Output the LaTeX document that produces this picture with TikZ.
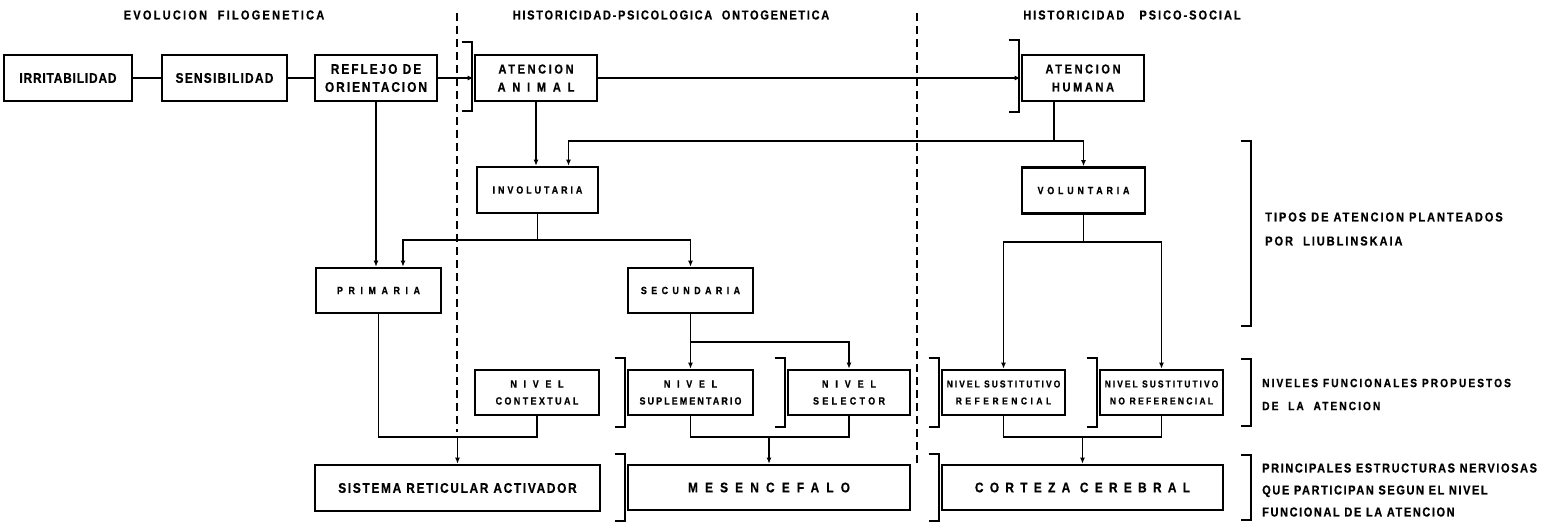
\documentclass[tikz,border=0pt]{standalone}
\usepackage{fontspec}
\usetikzlibrary{arrows.meta}
\newfontfamily\LS{Liberation Sans Bold}[FakeStretch=0.85,FakeBold=0.6]
% size, baselineskip, letter spacing
\newcommand\ft[3]{\LS\fontsize{#1}{#2}\selectfont\addfontfeature{LetterSpace=#3}}
\newcommand\ls[2]{{\addfontfeature{LetterSpace=#1}#2}}
% open bracket on the left side of a box
\newcommand\openbr[3]{\draw[brk] ([xshift=-12pt,yshift=#2]#1.north west) -| ([xshift=-2pt,yshift=-#3]#1.south west) -- ++(-10,0);}

\begin{document}
\begin{tikzpicture}[x=1pt,y=-1pt,
  box/.style={draw, line width=2.6pt, inner sep=0pt, align=center, minimum height=46pt},
  wire/.style={line width=1.4pt},
  arr/.style={wire, -{Latex[length=6pt,width=5pt]}},
  brk/.style={line width=2pt},
  zone/.style={line width=2pt, dash pattern=on 8pt off 5pt},
  head/.style={inner sep=0pt},
  note/.style={inner sep=0pt, align=left, anchor=west},
]
\fill[white] (0,0) rectangle (1558,523);
\useasboundingbox (0,0) rectangle (1558,523);

% column headings
\node[head, font=\ft{13}{15}{17}] (t1) at (224,15) {EVOLUCION\ \ FILOGENETICA};
\node[head, font=\ft{13}{15}{13}] (t2) at (671,15) {HISTORICIDAD-PSICOLOGICA\ \ ONTOGENETICA};
\node[head, font=\ft{13}{15}{15}] (t3) at (1132,15) {HISTORICIDAD\ \ \ PSICO-SOCIAL};

% column separators
\draw[zone] (457,13) -- (457,432);
\draw[zone] (917,13) -- (917,464);

% top row
\node[box, minimum width=128pt, font=\ft{14}{18}{6}] (irr) at (68,78) {IRRITABILIDAD};
\node[box, minimum width=125pt, font=\ft{14}{18}{9}] (sen) at (224.5,78) {SENSIBILIDAD};
\node[box, minimum width=122pt, font=\ft{14}{18}{14}] (ref) at (376,78) {REFLEJO DE\\ORIENTACION};
\node[box, minimum width=122pt, font=\ft{13}{18}{20}] (ani) at (536,78) {ATENCION\\\ls{52}{ANIMAL}};
\node[box, minimum width=122pt, font=\ft{13}{18}{20}] (hum) at (1083,78) {ATENCION\\HUMANA};

% types of attention
\node[box, minimum width=121pt, font=\ft{10.5}{17}{28}] (inv) at (537.5,190) {INVOLUTARIA};
\node[box, minimum width=123pt, font=\ft{10.5}{17}{36}] (vol) at (1083.5,190.5) {VOLUNTARIA};
\node[box, minimum width=125pt, minimum height=45pt, font=\ft{10.5}{17}{53}] (pri) at (378.5,290.5) {PRIMARIA};
\node[box, minimum width=125pt, minimum height=45pt, font=\ft{10.5}{17}{42}] (sec) at (690.5,290.5) {SECUNDARIA};

% functional levels
\node[box, minimum width=124pt, minimum height=45pt, font=\ft{10.5}{17}{23}] (ctx) at (537,392.5) {\ls{64}{NIVEL}\\CONTEXTUAL};
\node[box, minimum width=125pt, minimum height=45pt, font=\ft{10.5}{17}{20}] (sup) at (690.5,392.5) {\ls{64}{NIVEL}\\SUPLEMENTARIO};
\node[box, minimum width=122pt, minimum height=45pt, font=\ft{10.5}{17}{32}] (sel) at (849,392.5) {\ls{66}{NIVEL}\\SELECTOR};
\node[box, minimum width=123pt, minimum height=45pt, font=\ft{10}{17}{20}] (rfr) at (1003.5,392.5) {NIVEL SUSTITUTIVO\\\ls{35}{REFERENCIAL}};
\node[box, minimum width=123pt, minimum height=45pt, font=\ft{10}{17}{20}] (nrf) at (1161.5,392.5) {NIVEL SUSTITUTIVO\\\ls{23}{NO REFERENCIAL}};

% nervous structures
\node[box, minimum width=285pt, font=\ft{14}{18}{12}] (sis) at (457.5,488) {SISTEMA RETICULAR ACTIVADOR};
\node[box, minimum width=282pt, minimum height=45pt, font=\ft{14}{18}{51}] (mes) at (769,487.5) {MESENCEFALO};
\node[box, minimum width=281pt, minimum height=45pt, font=\ft{14}{18}{45}] (cor) at (1082.5,487.5) {CORTEZA CEREBRAL};

% brackets on boxes
\openbr{ani}{12pt}{9pt}
\openbr{hum}{14pt}{10pt}
\openbr{sup}{11pt}{11pt}
\openbr{sel}{11pt}{11pt}
\openbr{rfr}{11pt}{11pt}
\openbr{nrf}{11pt}{11pt}
\openbr{mes}{10pt}{10pt}
\openbr{cor}{10pt}{10pt}

% top chain
\draw[wire] (irr) -- (sen);
\draw[wire] (sen) -- (ref);
\draw[arr] (ref) -- (ani);
\draw[arr] (ani) -- (hum);

% downward links
\draw[arr] (ref.south) -- (ref.south |- pri.north);
\draw[arr] (ani.south) -- (ani.south |- inv.north);

\coordinate (hj) at (1054,141);
\draw[wire] (hj |- hum.south) -- (hj);
\draw[arr] (hj) -| ([xshift=31pt]inv.north);
\draw[arr] (hj) -| (vol.north);

\coordinate (ij) at (inv.south |- 0,240);
\draw[wire] (inv.south) -- (ij);
\draw[arr] (ij) -| ([xshift=24.5pt]pri.north);
\draw[arr] (ij) -| (sec.north);

\coordinate (vj) at (vol.south |- 0,242);
\draw[wire] (vol.south) -- (vj);
\draw[arr] (vj) -| (rfr.north);
\draw[arr] (vj) -| (nrf.north);

\draw[arr] (sec) -- (sup);
\coordinate (sj) at (sec.south |- 0,342);
\draw[arr] (sj) -| (sel.north);

% collectors into the nervous structures
\coordinate (pj) at (sis.north |- 0,437);
\draw[wire] (pri.south) |- (ctx.south |- pj) -- (ctx.south);
\draw[arr] (pj) -- (sis.north);
\coordinate (mj) at (mes.north |- 0,437);
\draw[wire] (sup.south) |- (sel.south |- mj) -- (sel.south);
\draw[arr] (mj) -- (mes.north);
\coordinate (cj) at (cor.north |- 0,437);
\draw[wire] (rfr.south) |- (nrf.south |- cj) -- (nrf.south);
\draw[arr] (cj) -- (cor.north);

% row brackets and their captions
\draw[brk] (1241,141) -| (1251,326) -- (1241,326);
\draw[brk] (1241,359) -| (1251,426) -- (1241,426);
\draw[brk] (1241,455) -| (1251,520) -- (1241,520);
\node[note, font=\ft{13}{24}{15}] (n1) at (1265,229) {TIPOS DE ATENCION PLANTEADOS\\POR\ \ LIUBLINSKAIA};
\node[note, font=\ft{12}{23}{17}] (n2) at (1262,394.5) {NIVELES FUNCIONALES PROPUESTOS\\DE\ \ LA\ \ ATENCION};
\node[note, font=\ft{13}{22}{12}] (n3) at (1262,490) {PRINCIPALES ESTRUCTURAS NERVIOSAS\\QUE PARTICIPAN SEGUN EL NIVEL\\FUNCIONAL DE LA ATENCION};
\end{tikzpicture}
\end{document}
